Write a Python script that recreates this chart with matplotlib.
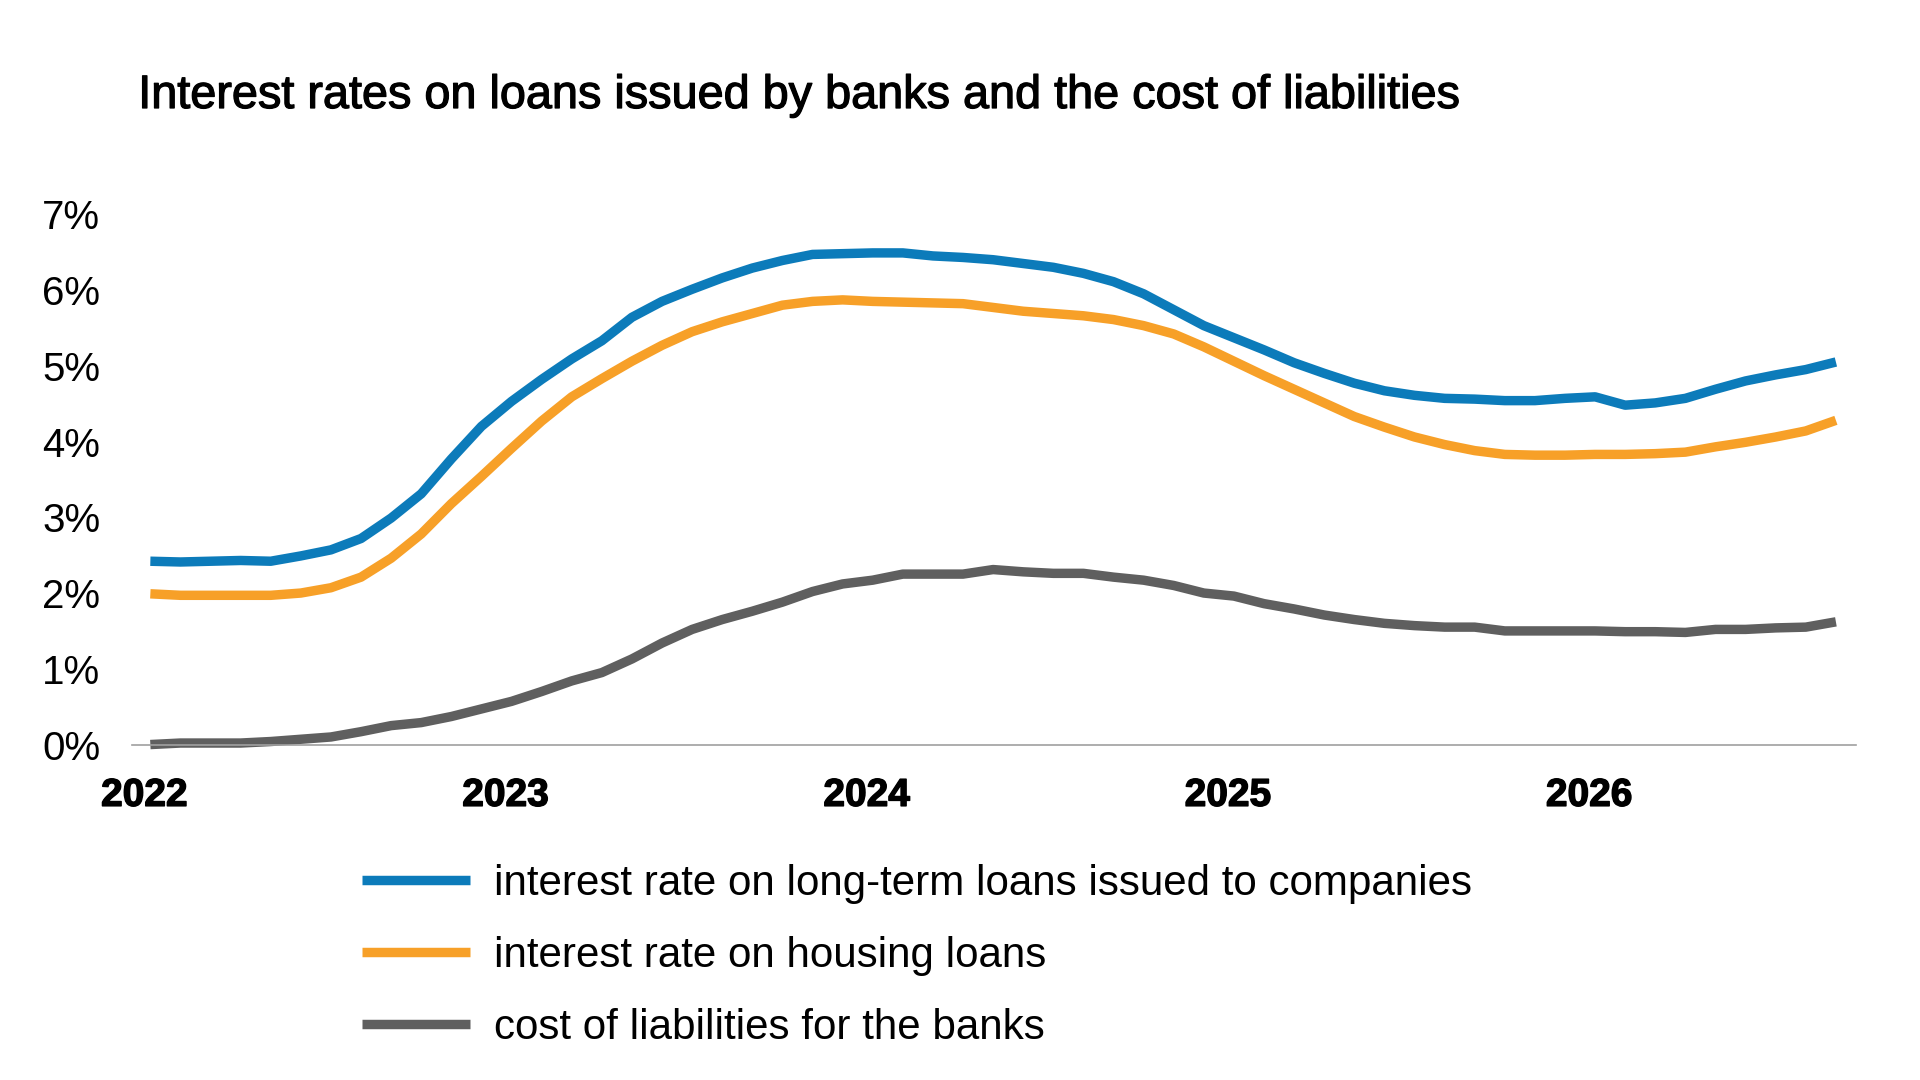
import matplotlib
matplotlib.use('Agg')
import matplotlib.pyplot as plt
import matplotlib.patheffects as pe
import numpy as np

# monthly data, Jan 2022 - Sep 2026
years = ['2022', '2023', '2024', '2025', '2026']

companies = [2.42, 2.41, 2.42, 2.43, 2.42, 2.49, 2.57, 2.72, 2.99, 3.31,
             3.77, 4.20, 4.53, 4.82, 5.09, 5.33, 5.64, 5.85, 6.01, 6.16,
             6.29, 6.39, 6.47, 6.48, 6.49, 6.49, 6.45, 6.43, 6.40, 6.35,
             6.30, 6.22, 6.11, 5.95, 5.74, 5.53, 5.37, 5.21, 5.04, 4.90,
             4.77, 4.67, 4.61, 4.57, 4.56, 4.54, 4.54, 4.57, 4.59, 4.48,
             4.51, 4.57, 4.69, 4.80, 4.88, 4.95, 5.05]

housing = [1.99, 1.97, 1.97, 1.97, 1.97, 2.00, 2.07, 2.21, 2.46, 2.78,
           3.18, 3.54, 3.91, 4.27, 4.59, 4.83, 5.06, 5.27, 5.45, 5.58,
           5.69, 5.80, 5.85, 5.87, 5.85, 5.84, 5.83, 5.82, 5.77, 5.72,
           5.69, 5.66, 5.61, 5.53, 5.42, 5.25, 5.06, 4.87, 4.69, 4.51,
           4.33, 4.19, 4.06, 3.96, 3.88, 3.83, 3.82, 3.82, 3.83, 3.83,
           3.84, 3.86, 3.93, 3.99, 4.06, 4.14, 4.28]

liabilities = [0.00, 0.02, 0.02, 0.02, 0.04, 0.07, 0.10, 0.17, 0.25, 0.29,
               0.37, 0.47, 0.57, 0.70, 0.84, 0.95, 1.13, 1.34, 1.52, 1.65,
               1.76, 1.88, 2.02, 2.12, 2.17, 2.25, 2.25, 2.25, 2.31, 2.28,
               2.26, 2.26, 2.21, 2.17, 2.10, 2.00, 1.96, 1.86, 1.79, 1.71,
               1.65, 1.60, 1.57, 1.55, 1.55, 1.50, 1.50, 1.50, 1.50, 1.49,
               1.49, 1.48, 1.52, 1.52, 1.54, 1.55, 1.62]

labels = ['interest rate on long-term loans issued to companies',
          'interest rate on housing loans',
          'cost of liabilities for the banks']
colors = ['#0C7BBA', '#F7A028', '#5F5F5F']

plt.rcParams['font.family'] = ['Liberation Sans', 'DejaVu Sans']

x = np.arange(len(companies))

fig = plt.figure(figsize=(19.2, 10.8), dpi=100)
ax = fig.add_axes([0.0689, 0.3106, 0.8978, 0.491])

for series, lab, col in zip([companies, housing, liabilities], labels, colors):
    ax.plot(x, series, color=col, lw=6.8, label=lab, clip_on=False,
            solid_joinstyle='round', solid_capstyle='butt')

ax.set_xlim(-0.6, 56.67)
ax.set_ylim(0, 7)
ax.set_yticks(range(8))
ax.set_yticklabels([f'{v}%' for v in range(8)])
ax.set_xticks(np.arange(len(years)) * 12 - 0.2)
ax.set_xticklabels(years)

for s in ['top', 'right', 'left']:
    ax.spines[s].set_visible(False)
ax.spines['bottom'].set_color('#A0A0A0')
ax.spines['bottom'].set_linewidth(1.2)
ax.tick_params(axis='both', length=0)
ax.tick_params(axis='y', labelsize=29, pad=23)
ax.tick_params(axis='x', pad=24)
for t in ax.get_xticklabels():
    t.set_fontweight('bold')
    t.set_fontsize(28)
    t.set_path_effects([pe.withStroke(linewidth=1.0, foreground='black')])

fig.text(0.072, 0.9, 'Interest rates on loans issued by banks and the cost of liabilities',
         fontsize=33.7, va='baseline', ha='left',
         path_effects=[pe.withStroke(linewidth=0.9, foreground='black')])

fig.legend(loc='upper left', bbox_to_anchor=(0.1798, 0.216), frameon=False,
           fontsize=30.3, handlelength=2.56, handletextpad=0.58, labelspacing=0.76,
           borderaxespad=0)

fig.savefig('out.png', dpi=100)
